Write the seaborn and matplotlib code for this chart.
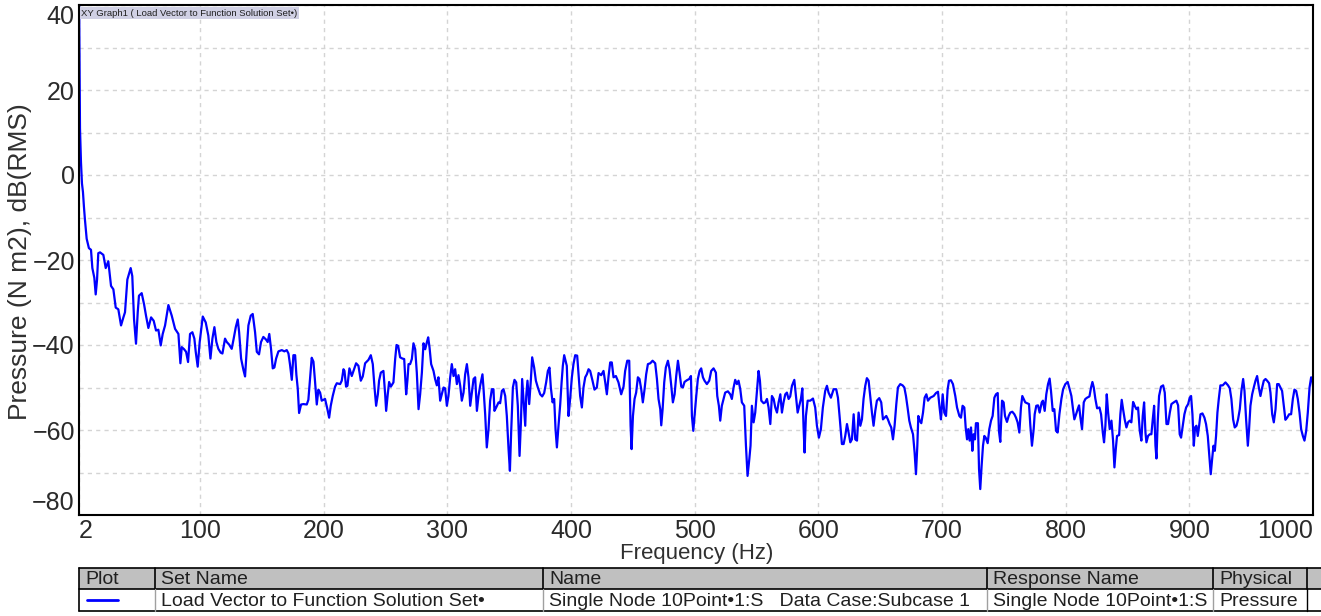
import pandas as pd
import seaborn as sns
import matplotlib.pyplot as plt
from matplotlib import font_manager
from matplotlib.patches import Rectangle
from matplotlib.ticker import MultipleLocator

# frequency (Hz) / level (dB)
freq_hz = [
    2.0, 2.8, 3.6, 4.4, 5.2, 6.0, 6.8, 8.2, 10.0, 11.7, 12.8, 14.4, 15.5, 16.6, 17.6, 19.0,
    21.7, 23.6, 25.7, 27.9, 29.8, 31.7, 33.8, 36.0, 37.9, 39.2, 41.1, 43.8, 45.1, 46.5, 48.1,
    49.5, 50.5, 52.7, 54.6, 56.2, 58.1, 60.3, 62.4, 64.3, 66.2, 68.1, 69.7, 71.6, 74.3, 77.0,
    79.7, 82.4, 84.0, 85.1, 87.0, 88.6, 90.2, 91.8, 93.7, 95.3, 96.4, 98.0, 99.6, 102.1, 104.5,
    106.6, 108.3, 109.9, 111.5, 113.1, 114.7, 116.6, 118.0, 120.1, 121.5, 123.4, 125.5, 127.1,
    128.8, 130.4, 131.5, 133.1, 135.0, 136.3, 137.7, 139.0, 140.9, 142.5, 144.4, 145.8, 147.6,
    149.2, 151.1, 153.2, 154.6, 155.9, 157.3, 158.7, 160.0, 161.4, 163.3, 166.0, 168.1, 170.0,
    171.4, 172.7, 174.1, 175.4, 176.8, 177.8, 178.9, 180.0, 181.6, 183.5, 186.2, 187.5, 188.9,
    190.2, 191.6, 192.9, 194.3, 195.6,
    197.0, 198.3, 201.0, 202.9, 204.3, 205.6, 207.2, 209.1, 210.5, 213.2, 214.5, 215.9, 216.7,
    218.0, 219.1, 220.7, 222.6, 224.0, 226.1, 228.0, 229.9, 231.5, 233.4, 236.1, 238.0, 239.6,
    241.0, 242.3, 243.7, 244.7, 246.1, 248.2, 249.6, 250.4, 251.7, 252.8, 254.2, 256.3, 257.7,
    258.8, 260.1, 261.7, 263.6, 265.0, 265.8, 266.6, 267.7, 268.5, 269.8, 271.2, 272.5, 273.9,
    275.2, 276.6, 277.9, 279.3, 280.6, 282.0, 283.3, 284.4, 285.5, 286.8, 288.7, 290.0, 291.4,
    292.7, 294.1, 295.4, 296.8, 298.1, 299.5, 300.8, 302.2, 303.5, 304.9, 306.2, 307.6, 308.9,
    310.3, 311.6, 313.0, 314.3, 315.7, 317.0, 318.4, 319.7, 321.1, 322.4, 323.8, 325.1, 326.5,
    328.3, 329.1, 330.5, 331.8, 333.2, 334.5, 335.9, 337.2, 338.0, 339.4, 341.3, 342.6, 344.0,
    345.3, 346.7, 348.0, 349.4, 350.5, 351.5, 352.9, 354.2, 355.6, 356.9, 358.3, 359.4, 360.4,
    362.0, 362.9, 363.7, 364.7, 366.1, 367.4, 368.5, 370.1, 371.5, 373.1, 375.0, 376.6, 378.2,
    379.8, 381.2, 382.5, 383.6, 385.0, 386.3, 387.4, 388.5, 389.8, 391.2, 392.3, 393.3, 394.4,
    396.5, 397.9, 399.2, 400.6, 401.9, 403.3, 404.9, 406.0, 407.3, 408.7, 410.0, 411.4, 412.7,
    414.1, 415.4, 417.3, 418.9, 420.8, 422.2, 424.3, 426.2, 427.6, 428.9, 430.3, 431.6, 432.9,
    434.3, 436.2, 438.3, 440.5, 442.4, 443.7, 445.4, 447.0, 448.1, 448.9, 450.0, 451.3, 452.6,
    454.0, 455.3, 456.7, 458.0, 459.4, 460.7, 462.1, 464.0, 465.9, 468.0, 469.4, 470.7, 472.1,
    472.9, 474.0, 475.3, 476.6, 478.3, 479.6, 481.0, 482.3, 483.7, 485.0, 486.4, 487.7, 489.1,
    490.4, 491.7, 493.6, 495.5, 496.9, 497.7, 498.8, 499.8, 501.2, 502.5, 503.9, 505.2, 506.6,
    507.9, 509.8, 511.7, 513.3, 515.2, 517.1, 518.2, 519.5, 520.6, 521.9, 523.3, 524.6, 526.8,
    528.7, 530.0, 531.4, 532.7, 534.1, 535.4, 536.8, 538.1, 540.0, 541.4, 542.7, 544.1, 545.1,
    546.2, 547.6, 548.9, 550.3, 551.6, 552.7, 553.8, 555.7, 557.0, 558.4, 559.7, 561.1, 562.4,
    563.8, 565.1, 566.5, 567.8, 569.2, 570.5, 571.8, 573.2, 574.5, 575.9, 577.2, 578.6, 580.5,
    581.8, 583.2, 584.5, 585.9, 587.0, 588.0, 588.8, 589.9, 591.3,
    593.4, 595.6, 597.4, 598.8, 600.4, 602.0, 603.6, 605.5, 606.9, 608.2, 610.1, 612.3, 614.4,
    615.8, 617.1, 619.0, 620.4, 621.7, 623.1, 624.4, 625.8, 627.1, 628.5, 629.8, 631.2, 632.5,
    633.9, 635.2, 636.5, 637.9, 639.2, 640.6, 641.9, 643.3, 644.6, 646.0, 647.3, 649.2, 650.8,
    652.2, 653.5, 654.9, 656.2, 657.6, 658.9, 660.3, 661.6, 663.0, 664.3, 666.2, 668.1, 669.5,
    670.8, 672.1, 673.5, 674.8, 676.5, 677.8, 678.9, 680.0, 680.8, 681.9, 683.2, 684.6, 685.9,
    687.3, 688.6, 690.5, 693.2, 695.1, 696.7, 698.0, 699.1, 700.5, 701.8, 703.2, 704.5, 705.6,
    707.2, 708.8, 710.7, 712.1, 714.0, 715.3, 716.6, 718.0, 719.1, 720.2, 721.2, 722.3, 723.4,
    724.5, 725.5, 726.6, 727.4, 729.0, 729.9, 730.9, 732.0, 733.1, 734.2, 735.3, 736.9, 738.2,
    739.6, 740.9, 742.3, 743.6, 745.0, 746.0, 747.1, 748.5, 749.8, 750.9, 752.5, 753.9, 755.2,
    756.8, 758.5, 759.8, 761.1, 762.5, 763.8, 764.9, 766.0, 767.3, 768.7, 770.3, 771.4, 772.7,
    774.1, 774.9, 776.2, 777.6, 778.9, 780.6, 781.6, 783.0, 784.3, 785.7, 787.0, 788.1, 789.5,
    790.8, 792.2, 793.5, 794.9,
    796.5, 797.9, 799.7, 801.6, 803.2, 804.6, 805.9, 807.0, 808.4, 809.7, 810.8, 811.9, 813.2,
    814.6, 815.9, 817.3, 819.2, 820.5, 821.6, 822.7, 824.0, 825.4, 827.3, 828.6, 830.0, 831.0,
    832.1, 833.2, 834.3, 835.6, 837.0, 838.3, 839.4, 840.5, 841.5, 843.2, 844.2, 845.3, 846.4,
    847.7, 849.1, 850.4, 851.8, 853.1, 854.5, 855.8, 857.2, 858.5, 859.9, 861.2, 862.3, 863.4,
    864.5, 865.3, 866.6, 868.0, 869.3, 870.4, 871.5, 872.6, 873.4, 874.4, 875.5, 877.1, 878.8,
    880.1, 881.5, 882.8, 884.2, 885.5, 887.4, 889.5, 890.9, 892.2, 893.3, 894.7, 896.0, 897.4,
    899.0, 900.3, 901.4, 902.5, 903.6, 904.6, 905.7, 906.8, 907.9, 909.0, 910.6, 912.2, 913.5,
    914.9, 916.2, 917.3, 918.4, 919.5, 920.6, 921.6, 922.7, 923.8, 925.1, 927.0, 929.2, 931.3,
    932.7, 934.0, 935.4, 936.7, 938.1, 939.4, 940.8, 942.1, 943.5, 944.6, 945.9, 947.3, 948.3,
    949.4, 950.8, 952.1, 953.5, 954.8, 956.2, 957.5, 958.9, 960.2, 961.6, 962.9, 964.5, 965.6,
    967.0, 968.3, 969.7, 971.0, 972.3, 973.7, 975.0, 976.4, 977.7, 979.1, 980.7, 982.3, 983.7,
    985.0, 986.4, 987.7, 989.1, 990.4, 991.8, 993.1, 994.5, 995.8, 997.2, 998.5, 999.6, 1000.7,
]
level_db = [
    45.0, 11.0, 3.0, -2.0, -4.0, -7.5, -10.5, -15.0, -17.2, -17.6, -21.9, -24.2, -28.1, -24.6, -18.4, -18.2,
    -18.8, -21.9, -20.3, -26.1, -26.9, -31.2, -31.6, -35.4, -33.5, -32.3, -24.6, -21.9, -23.8, -33.9, -39.7,
    -32.3, -28.4, -27.8, -30.4, -33.1, -36.0, -33.5, -34.3, -36.6, -36.4, -40.1, -37.4, -35.4, -30.6, -33.1,
    -36.2, -37.4, -44.3, -40.5, -41.0, -41.6, -44.0, -37.4, -37.0, -38.5, -41.6, -45.1, -39.3, -33.3, -34.7,
    -37.8, -43.2, -38.5, -35.8, -39.3, -40.9, -41.8, -42.0, -38.5, -39.3, -39.9, -40.9, -38.5,
    -35.8, -34.0, -37.0, -43.2, -45.9, -47.4, -40.9, -35.4, -33.1, -32.7, -37.0, -41.6, -42.2,
    -39.3, -38.1, -38.7, -39.3, -37.4, -40.9, -45.5, -45.3, -43.2, -41.5, -41.2, -41.5, -41.2,
    -42.0, -44.7, -48.2, -42.4, -42.4, -47.0, -50.2, -56.0, -54.0, -53.9, -54.0, -52.9, -47.8,
    -43.0, -43.9, -48.6, -54.0, -50.5,
    -51.2, -53.1, -52.7, -55.1, -57.1, -54.3, -52.0, -49.8, -49.0, -49.2, -48.4, -45.7, -46.1,
    -49.8, -49.6, -45.5, -47.3, -46.1, -44.3, -44.9, -48.4, -47.4, -44.3, -43.5, -42.4, -44.5,
    -50.0, -54.3, -51.6, -48.4, -46.5, -46.1, -51.6, -55.5, -51.6, -48.7, -49.8, -48.8, -43.3,
    -40.0, -40.2, -42.9, -43.2, -43.3, -47.3, -51.6, -48.0, -44.5, -44.5, -43.3, -39.6, -41.0,
    -46.5, -55.1, -51.6, -46.5, -39.6, -41.0, -39.4, -38.2, -40.6, -44.5, -46.1, -48.0, -49.5,
    -47.6, -53.1, -51.6, -50.0, -50.2, -54.3, -52.0, -47.6, -44.5, -47.3, -45.7, -49.2, -47.1,
    -49.6, -53.1, -51.2, -46.9, -44.5, -47.6, -54.3, -51.2, -48.0, -47.6, -55.5, -52.0, -49.5,
    -46.9, -50.0, -56.3, -64.1, -59.8, -53.1, -50.4, -50.4, -55.5, -54.7, -53.5, -53.7, -50.8,
    -50.4, -52.0, -56.7, -64.5, -69.6, -60.6, -50.0, -48.2, -48.8, -54.3, -66.1, -58.2, -48.0,
    -55.1, -59.0, -52.0, -48.4, -53.9, -48.4, -42.9, -45.3, -48.4, -50.0, -51.6, -52.1, -51.3,
    -48.8, -46.1, -45.3, -50.0, -53.5, -52.7, -59.8, -64.1, -59.0, -53.9, -48.8, -44.9, -42.4,
    -44.9, -56.7, -52.7, -47.6, -44.5, -42.4, -42.5, -46.9, -52.0, -54.7, -50.0, -47.6, -46.9,
    -45.7, -46.1, -48.4, -50.5, -50.0, -46.6, -47.1, -46.1, -48.8, -51.6, -47.3, -44.1, -44.1,
    -47.6, -47.3, -48.8, -51.6, -49.8, -46.1, -43.7, -43.7, -59.0, -64.5, -56.7, -52.7, -51.2,
    -47.6, -48.0, -50.4, -53.5, -50.4, -46.9, -44.5, -44.3, -43.7, -44.3, -48.0, -52.7, -55.1,
    -58.9, -55.1, -48.8, -45.3, -43.7, -45.7, -49.6, -53.5, -51.6, -47.3, -43.7, -46.5, -49.8,
    -50.0, -48.7, -48.3, -48.0, -47.3, -56.7, -60.2, -56.7, -52.0, -48.0, -46.1, -45.5, -47.6,
    -48.4, -49.2, -48.4, -46.1, -45.5, -46.5, -52.0, -54.3, -57.8, -54.3, -52.7, -51.2, -50.9,
    -51.6, -52.7, -50.0, -48.2, -49.2, -48.4, -50.4, -53.5, -54.3, -63.7, -70.8, -66.9, -63.7,
    -54.3, -58.2, -55.9, -50.8, -46.1, -48.4, -53.1, -53.7, -53.5, -52.7, -54.7, -58.6, -52.0,
    -52.7, -54.7, -55.9, -53.5, -51.6, -55.9, -53.5, -51.6, -51.2, -52.7, -52.1, -49.6, -48.2,
    -52.0, -55.9, -54.3, -52.6, -50.2, -59.4, -65.3, -56.7, -53.1,
    -53.1, -52.6, -54.7, -59.0, -61.8, -59.8, -54.7, -50.8, -49.6, -51.2, -52.4, -50.4, -50.4,
    -52.4, -56.7, -63.3, -63.3, -61.4, -58.6, -60.6, -62.9, -62.2, -56.3, -62.2, -62.5, -55.9,
    -59.0, -57.5, -52.7, -49.6, -47.8, -48.4, -52.0, -55.9, -59.0, -55.5, -53.1, -52.5, -53.5,
    -57.5, -57.1, -56.7, -57.5, -58.6, -59.4, -62.2, -59.0, -53.9, -50.0, -49.2, -49.5, -50.0,
    -52.0, -54.7, -57.8, -59.4, -61.0, -65.3, -70.4, -63.7, -56.7, -57.8, -58.4, -55.9, -52.4,
    -51.6, -53.1, -52.4, -52.0, -51.3, -51.0, -54.7, -57.5, -51.6, -55.9, -56.7, -50.5, -48.4,
    -48.3, -49.2, -52.0, -54.7, -56.7, -57.1, -54.3, -54.7, -59.4, -62.2, -59.8, -62.5, -59.4,
    -64.9, -61.0, -62.2, -58.4, -58.4, -69.2, -73.9, -68.4, -63.7, -61.4, -61.8, -63.1, -59.8,
    -57.8, -56.7, -52.4, -51.6, -51.3, -60.2, -62.8, -53.1, -53.5, -56.7, -58.1, -56.7, -55.9,
    -55.7, -56.3, -57.1, -58.2, -60.6, -54.7, -52.0, -52.7, -53.5, -53.7, -53.9, -59.0, -63.7,
    -59.8, -56.3, -54.3, -54.2, -55.9, -53.5, -53.1, -55.5, -51.6, -49.2, -47.9, -50.8, -55.5,
    -55.1, -60.2, -60.6, -56.3,
    -52.7, -50.4, -49.2, -48.7, -50.4, -52.0, -55.1, -57.5, -56.3, -55.1, -54.2, -57.1, -59.8,
    -53.5, -52.7, -52.4, -52.1, -50.0, -48.7, -50.0, -52.7, -54.9, -54.7, -56.3, -60.6, -62.9,
    -59.0, -51.6, -55.9, -59.8, -57.8, -62.5, -68.8, -64.5, -61.4, -61.2, -56.3, -52.9, -55.1,
    -57.5, -59.4, -58.2, -57.8, -58.2, -53.4, -54.3, -55.1, -54.7, -60.2, -62.5, -56.7, -53.5,
    -60.6, -62.9, -61.4, -61.0, -61.0, -57.5, -54.3, -63.7, -66.7, -58.2, -52.0, -49.8, -49.5,
    -51.2, -58.6, -58.6, -55.9, -53.9, -53.5, -53.1, -54.2, -61.0, -61.8, -59.0, -56.3, -54.7,
    -53.9, -52.4, -52.0, -56.3, -63.7, -59.4, -59.0, -61.4, -59.0, -56.3, -56.1, -57.1, -58.6,
    -61.4, -66.1, -70.4, -66.9, -63.7, -64.9, -61.4, -55.9, -52.7, -49.5, -49.5, -48.8, -49.5,
    -50.2, -52.7, -57.5, -59.4, -59.0, -57.5, -55.1, -50.8, -48.0, -50.8, -57.5, -63.7, -59.8,
    -54.3, -51.6, -50.0, -48.4, -47.3, -50.0, -52.0, -50.0, -48.4, -48.0, -48.4, -49.0, -51.2,
    -56.3, -58.2, -55.1, -49.2, -49.2, -50.0, -50.8, -54.3, -57.6, -57.1, -56.3, -56.3, -52.7,
    -50.5, -50.8, -52.7, -55.9, -59.8, -61.4, -62.5, -60.2, -55.9, -50.0, -47.6, -48.0, -52.7,
]

x_ticks = [2, 100, 200, 300, 400, 500, 600, 700, 800, 900, 1000]
x_tick_labels = ['2', '100', '200', '300', '400', '500', '600', '700', '800', '900', '1000']
y_ticks = [40, 20, 0, -20, -40, -60, -80]

graph_title = 'XY Graph1 ( Load Vector to Function Solution Set\u2022)'
table_headers = ['Plot', 'Set Name', 'Name', 'Response Name', 'Physical']
table_cells = ['', 'Load Vector to Function Solution Set\u2022',
               'Single Node 10Point\u20221:S   Data Case:Subcase 1',
               'Single Node 10Point\u20221:S', 'Pressure']

sns.set_style('white')
installed = {f.name for f in font_manager.fontManager.ttflist}
font = 'Liberation Sans' if 'Liberation Sans' in installed else 'DejaVu Sans'
plt.rcParams['font.family'] = [font, 'DejaVu Sans']

W, H = 1321, 616
fig = plt.figure(figsize=(W / 100, H / 100), dpi=100)
ax = fig.add_axes([79 / W, 101 / H, 1234 / W, 510 / H])

df = pd.DataFrame({'freq': freq_hz, 'level': level_db})
sns.lineplot(data=df, x='freq', y='level', ax=ax, color='#0000ff',
             linewidth=1.6, estimator=None, sort=False)

ax.set_xlim(2, 1000)
ax.set_ylim(-80, 40)
ax.set_xticks(x_ticks)
ax.set_xticklabels(x_tick_labels)
ax.set_yticks(y_ticks)
ax.yaxis.set_minor_locator(MultipleLocator(10))
ax.set_xlabel('')
ax.set_ylabel('')

ax.tick_params(axis='both', which='major', direction='in', length=10, width=1.2,
               labelsize=18, colors='black', labelcolor='#2a2a2a', pad=3)
ax.tick_params(axis='y', which='minor', direction='in', length=5, width=1.2)
xlabels = ax.get_xticklabels()
xlabels[0].set_ha('left')
xlabels[-1].set_ha('right')
# end labels on the y axis sit inside the frame height, like the reference
for lab in ax.get_yticklabels():
    if lab.get_text() in ('40',):
        lab.set_va('top')
    elif lab.get_text() in ('\u221280', '-80'):
        lab.set_va('bottom')

ax.yaxis.grid(True, which='both', color='#d4d4d4', linestyle=(0, (3, 3)), linewidth=1)
ax.xaxis.grid(True, which='major', color='#d4d4d4', linestyle=(0, (3, 3)), linewidth=1)
ax.set_axisbelow(True)
for spine in ax.spines.values():
    spine.set_color('black')
    spine.set_linewidth(1.5)

ax.text(0.002, 0.993, graph_title, transform=ax.transAxes, ha='left', va='top',
        fontsize=6.8, color='#202020',
        bbox=dict(facecolor='#d0d0e4', edgecolor='none', pad=1.2))

fig.text(20 / W, 1 - 262 / H, 'Pressure (N m2), dB(RMS)', rotation=90,
         ha='center', va='center', fontsize=19, color='#303030')
fig.text(697 / W, 1 - 553 / H, 'Frequency (Hz)', ha='center', va='center',
         fontsize=16, color='#303030')

# results table under the graph, drawn in pixel coordinates
tab = fig.add_axes([0, 0, 1, 1])
tab.set_xlim(0, W)
tab.set_ylim(H, 0)
tab.axis('off')
tab.patch.set_alpha(0)

col_x = [79, 155, 543, 987, 1213, 1307]
top, mid, bot = 568, 589, 611
tab.add_patch(Rectangle((79, top), W - 79, mid - top, facecolor='#c0c0c0', edgecolor='none'))
for y in (top, mid, bot):
    tab.plot([79, W], [y, y], color='black', linewidth=1.2)
tab.plot([79, 79], [top, bot], color='black', linewidth=1.2)
for x in col_x[1:]:
    tab.plot([x, x], [top, mid], color='black', linewidth=1.2)
    tab.plot([x, x], [mid, bot], color='#a0a0a0' if x != 1307 else 'black', linewidth=1)

for x, head, cell in zip(col_x, table_headers, table_cells):
    tab.text(x + 6, (top + mid) / 2 + 1, head, ha='left', va='center', fontsize=14, color='#202020')
    tab.text(x + 6, (mid + bot) / 2 + 1, cell, ha='left', va='center', fontsize=14, color='#202020')
tab.plot([87, 118], [600, 600], color='#0000ff', linewidth=2)

fig.savefig('out.png', dpi=100)
